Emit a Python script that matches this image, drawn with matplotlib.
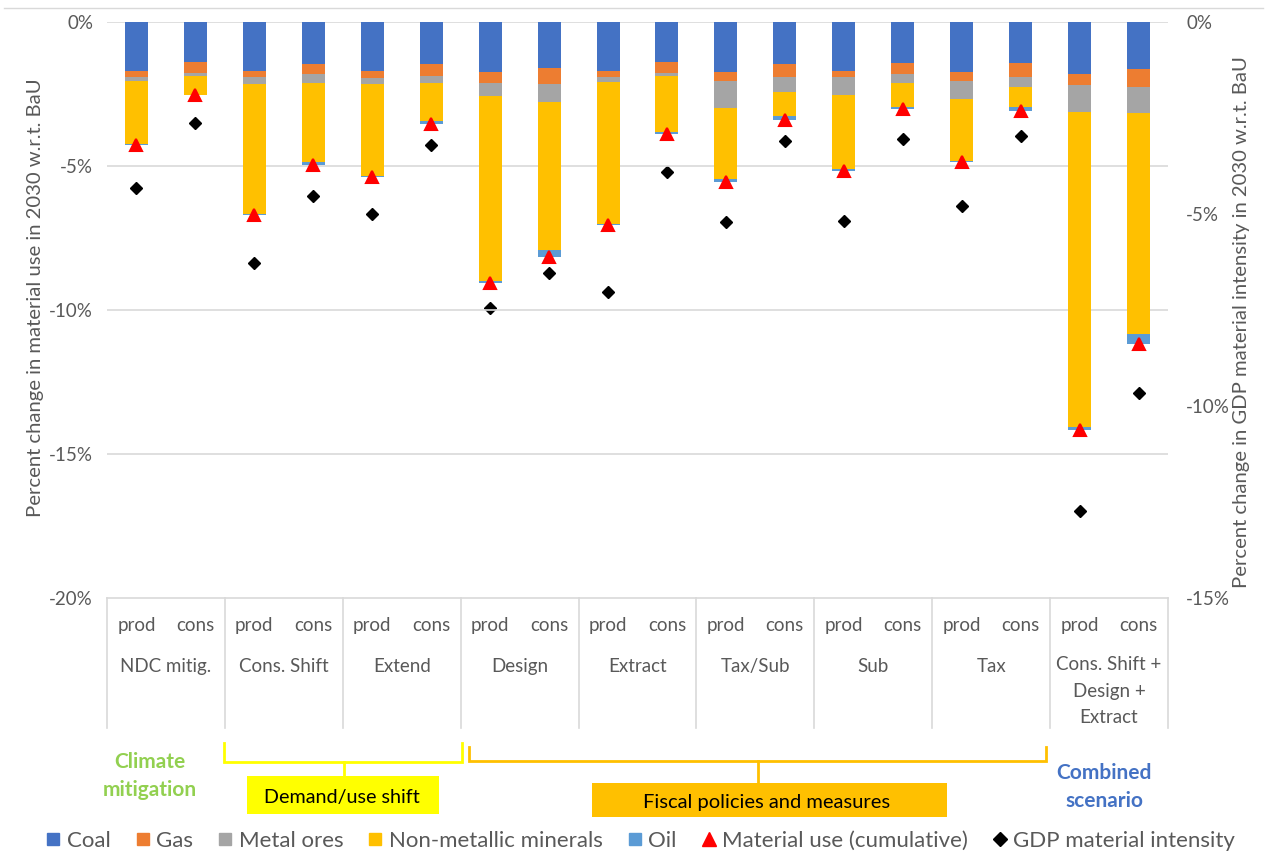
import numpy as np
import matplotlib
matplotlib.use("Agg")
import matplotlib.pyplot as plt
from matplotlib.lines import Line2D

plt.rcParams['font.family'] = ['Lato', 'DejaVu Sans']

# ---- data -------------------------------------------------------------
scenarios = ["NDC mitig.", "Cons. Shift", "Extend", "Design", "Extract",
             "Tax/Sub", "Sub", "Tax", "Cons. Shift +\nDesign +\nExtract"]
sides = ["prod", "cons"]

# contributions to the change in material use (percentage points)
coal = [-1.70, -1.40, -1.70, -1.47, -1.70, -1.47, -1.74, -1.61, -1.70,
        -1.40, -1.74, -1.47, -1.70, -1.44, -1.74, -1.44, -1.81, -1.64]
gas = [-0.20, -0.36, -0.20, -0.35, -0.23, -0.39, -0.39, -0.54, -0.20,
       -0.36, -0.30, -0.44, -0.21, -0.37, -0.30, -0.47, -0.39, -0.63]
metal_ores = [-0.14, -0.10, -0.25, -0.30, -0.22, -0.26, -0.43, -0.64, -0.17,
              -0.10, -0.96, -0.51, -0.62, -0.32, -0.65, -0.36, -0.91, -0.88]
non_metallic = [-2.21, -0.67, -4.51, -2.73, -3.19, -1.32, -6.43, -5.13, -4.94,
                -1.96, -2.46, -0.83, -2.57, -0.81, -2.13, -0.67, -10.95, -7.67]
oil = [-0.03, -0.02, -0.03, -0.10, -0.03, -0.10, -0.06, -0.23, -0.04,
       -0.06, -0.10, -0.15, -0.06, -0.08, -0.04, -0.14, -0.11, -0.35]

# change in GDP material intensity (right axis, %)
gdp_intensity = [-4.31, -2.62, -6.27, -4.53, -5.01, -3.20, -7.45, -6.53, -7.03,
                 -3.90, -5.22, -3.10, -5.17, -3.05, -4.78, -2.97, -12.73, -9.66]

left_ticks = [0, -5, -10, -15, -20]
right_ticks = [0, -5, -10, -15]

series = [("Coal", coal, "#4472C4"),
          ("Gas", gas, "#ED7D31"),
          ("Metal ores", metal_ores, "#A5A5A5"),
          ("Non-metallic minerals", non_metallic, "#FFC000"),
          ("Oil", oil, "#5B9BD5")]

# ---- figure -----------------------------------------------------------
W, H = 1267, 855
fig = plt.figure(figsize=(W / 100, H / 100), dpi=100)


def fx(px):
    return px / W


def fy(py):
    return 1 - py / H


x0, x1, y0, y1 = 107, 1168, 22, 598
ax = fig.add_axes([fx(x0), fy(y1), fx(x1) - fx(x0), fy(y0) - fy(y1)])
ax2 = ax.twinx()

GRAY = "#595959"
GRID = "#D9D9D9"
n = len(coal)
xs = np.arange(n)

bottom = np.zeros(n)
for name, vals, col in series:
    v = np.array(vals)
    ax.bar(xs, v, width=0.39, bottom=bottom, color=col, zorder=2)
    bottom = bottom + v
material_total = bottom

ax.plot(xs, material_total, linestyle="none", marker="^", markersize=9,
        color="#FF0000", markeredgecolor="#FF0000", markeredgewidth=1.5,
        zorder=4)
ax2.plot(xs, gdp_intensity, linestyle="none", marker="D", markersize=6.6,
         color="black", zorder=4)

ax.set_xlim(-0.5, n - 0.5)
ax.set_ylim(-20, 0)
ax2.set_ylim(-15, 0)
ax.set_yticks(left_ticks)
ax.set_yticklabels([f"{t}%" for t in left_ticks])
ax2.set_yticks(right_ticks)
ax2.set_yticklabels([f"{t}%" for t in right_ticks])

for a in (ax, ax2):
    for s in a.spines.values():
        s.set_visible(False)
    a.tick_params(axis="y", length=0, labelsize=13.5, labelcolor=GRAY)
ax.tick_params(axis="y", pad=10)
ax2.tick_params(axis="y", pad=13)
ax.set_xticks([])
ax2.set_xticks([])

for t in left_ticks[:-1]:
    ax.axhline(t, color=GRID, lw=1.2, zorder=1)
ax.spines["bottom"].set_visible(True)
ax.spines["bottom"].set_color(GRID)
ax.spines["bottom"].set_linewidth(1.2)

ax.set_zorder(ax2.get_zorder() + 1)
ax.patch.set_visible(False)

# axis titles
fig.text(fx(36), fy(298), "Percent change in material use in 2030 w.r.t. BaU",
         rotation=90, ha="center", va="center", fontsize=14.6, color=GRAY)
fig.text(fx(1242), fy(322),
         "Percent change in GDP material intensity in 2030 w.r.t. BaU",
         rotation=90, ha="center", va="center", fontsize=14.6, color=GRAY)

# category axis: prod/cons labels, scenario names and separators
tx = ax.get_xaxis_transform()
slot_px = (x1 - x0) / n


def ax_y(py):
    return -(py - y1) / (y1 - y0)


for i in range(n):
    ax.text(xs[i], ax_y(625), sides[i % 2], transform=tx,
            ha="center", va="center", fontsize=13.5, color=GRAY,
            clip_on=False)
for g, name in enumerate(scenarios):
    if "\n" in name:
        # multi-line label placed by its first line
        ax.text(2 * g + 0.5, ax_y(656), name, transform=tx, ha="center",
                va="top", fontsize=13.5, color=GRAY, linespacing=1.68,
                clip_on=False)
    else:
        ax.text(2 * g + 0.5, ax_y(666), name, transform=tx, ha="center",
                va="center", fontsize=13.5, color=GRAY, clip_on=False)
for g in range(len(scenarios) + 1):
    xb = x0 + g * 2 * slot_px
    fig.add_artist(Line2D([fx(xb), fx(xb)], [fy(y1), fy(728)],
                          color=GRID, lw=1.2))

# group brackets
YEL = "#FFFF00"
ORG = "#FFC000"


def bracket(xa, xb, ytop, ybase, xstem, ystem, color):
    fig.add_artist(Line2D([fx(xa), fx(xa), fx(xb), fx(xb)],
                          [fy(ytop), fy(ybase), fy(ybase), fy(ytop)],
                          color=color, lw=2, solid_joinstyle="miter"))
    fig.add_artist(Line2D([fx(xstem), fx(xstem)], [fy(ybase), fy(ystem)],
                          color=color, lw=2))


bracket(224, 462, 743, 762, 344, 776, YEL)
bracket(469, 1046, 747, 761, 758, 783, ORG)

fig.add_artist(plt.Rectangle((fx(247), fy(814)), fx(439) - fx(247),
                             fy(776) - fy(814), transform=fig.transFigure,
                             color=YEL, lw=0))
fig.text(fx(342), fy(797), "Demand/use shift", ha="center", va="center",
         fontsize=14.2, color="black")
fig.add_artist(plt.Rectangle((fx(592), fy(817)), fx(947) - fx(592),
                             fy(783) - fy(817), transform=fig.transFigure,
                             color=ORG, lw=0))
fig.text(fx(767), fy(802), "Fiscal policies and measures", ha="center",
         va="center", fontsize=14.5, color="black")

fig.text(fx(150), fy(776), "Climate\nmitigation", ha="center", va="center",
         fontsize=15, fontweight="bold", color="#92D050", linespacing=1.45)
fig.text(fx(1104), fy(787), "Combined\nscenario", ha="center", va="center",
         fontsize=15, fontweight="bold", color="#4472C4", linespacing=1.45)

# frame line at the top of the figure
fig.add_artist(Line2D([fx(4), fx(1263)], [fy(8), fy(8)], color=GRID, lw=1))

# legend
handles = [Line2D([], [], linestyle="none", marker="s", markersize=9,
                  color=col) for _, _, col in series]
handles.append(Line2D([], [], linestyle="none", marker="^", markersize=10,
                      color="#FF0000"))
handles.append(Line2D([], [], linestyle="none", marker="D", markersize=7,
                      color="black"))
labels = [s[0] for s in series] + ["Material use (cumulative)",
                                   "GDP material intensity"]
leg = fig.legend(handles, labels, loc="center", ncol=7, frameon=False,
                 bbox_to_anchor=(fx(641), fy(841)), fontsize=16,
                 handlelength=0.6, handletextpad=0.3, columnspacing=1.15,
                 borderpad=0, borderaxespad=0)
for t in leg.get_texts():
    t.set_color(GRAY)

fig.savefig("out.png", dpi=100)
